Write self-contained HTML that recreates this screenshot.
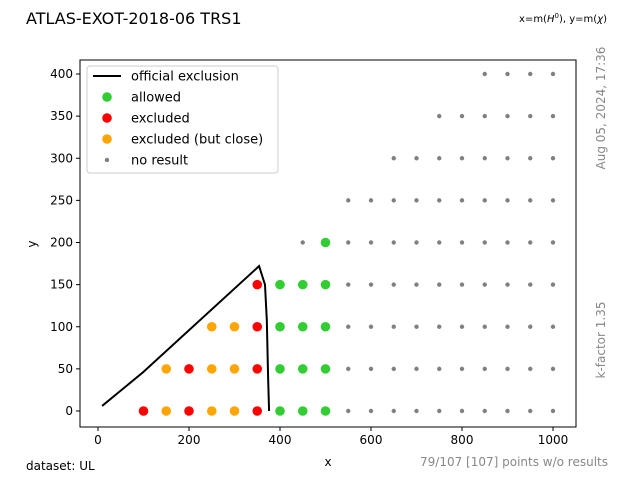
<!DOCTYPE html>
<html><head><meta charset="utf-8"><style>
body{margin:0;background:#fff;font-family:"Liberation Sans","DejaVu Sans",sans-serif}
svg text{font-family:"DejaVu Sans","Liberation Sans",sans-serif}
</style></head><body>
<svg id="c" width="640" height="480" xmlns="http://www.w3.org/2000/svg">
<rect width="640" height="480" fill="#fff"/>
<text x="26" y="24" font-size="16">ATLAS-EXOT-2018-06 TRS1</text>
<text x="607" y="22" font-size="10" text-anchor="end">x=m(<tspan font-style="italic">H</tspan><tspan font-size="7" dy="-4">0</tspan><tspan dy="4">), y=m(</tspan><tspan font-style="italic">χ</tspan>)</text>
<text transform="translate(605,108) rotate(-90)" font-size="12" fill="#888" text-anchor="middle">Aug 05, 2024, 17:36</text>
<text transform="translate(605,340) rotate(-90)" font-size="12" fill="#888" text-anchor="middle">k-factor 1.35</text>
<text x="26" y="470" font-size="12">dataset: UL</text>
<text x="608" y="466" font-size="12" fill="#888" text-anchor="end">79/107 [107] points w/o results</text>
<g id="plot"></g>
</svg>
<script>
const xTicks=[0,200,400,600,800,1000];
const yTicks=[0,50,100,150,200,250,300,350,400];
const exclX=[9,99,354,367,371,374,376];
const exclY=[6,46,172,150,108,37,0];
const allowedX=[400,450,500,400,450,500,400,450,500,400,450,500,500];
const allowedY=[0,0,0,50,50,50,100,100,100,150,150,150,200];
const excludedX=[100,200,350,200,350,350,350];
const excludedY=[0,0,0,50,50,100,150];
const closeX=[150,250,300,150,250,300,250,300];
const closeY=[0,0,0,50,50,50,100,100];
const noResRows=[0,50,100,150,200,250,300,350,400];
const noResStart=[550,550,550,550,550,550,650,750,850];
const NS="http://www.w3.org/2000/svg";
const L=80,R=576,T=60,B=427;
const sx=v=>98+v*0.455, sy=v=>411-v*0.8425;
const g=document.getElementById('plot');
function mk(t,a){const e=document.createElementNS(NS,t);for(const k in a)e.setAttribute(k,a[k]);g.appendChild(e);return e;}
// axes frame
let fr=mk('rect',{x:L,y:T,width:R-L,height:B-T,fill:'none',stroke:'#000','stroke-width':1});


xTicks.forEach(v=>{
 let t=mk('line',{x1:sx(v),x2:sx(v),y1:B,y2:B+4,stroke:'#000'});
 
 
 let s=mk('text',{x:sx(v),y:B+17,'font-size':12,'text-anchor':'middle'});s.textContent=v;
 
 
});
yTicks.forEach(v=>{
 let t=mk('line',{x1:L-4,x2:L,y1:sy(v),y2:sy(v),stroke:'#000'});
 
 
 let s=mk('text',{x:L-7,y:sy(v)+4,'font-size':12,'text-anchor':'end'});s.textContent=v;
 
 
});
let xl=mk('text',{x:328,y:466,'font-size':12,'text-anchor':'middle'});xl.textContent='x';


let yl=mk('text',{x:36,y:244,'font-size':12,'text-anchor':'middle',transform:'rotate(-90 36 244)'});yl.textContent='y';


// no result
noResRows.forEach((y,i)=>{
 const xs=[];for(let x=noResStart[i];x<=1000;x+=50)xs.push(x);
 if(y===200)xs.unshift(450);
 xs.forEach(x=>{let c=mk('circle',{cx:sx(x),cy:sy(y),r:2.2,fill:'#808080'});
 
 });
});
function pts(X,Y,col,name){X.forEach((x,i)=>{let c=mk('circle',{cx:sx(x),cy:sy(Y[i]),r:4.8,fill:col});
 
 });}
pts(allowedX,allowedY,'#32cd32','allowed-point');
pts(excludedX,excludedY,'#ff0000','excluded-point');
pts(closeX,closeY,'#ffa500','excluded-close-point');
let p=mk('polyline',{points:exclX.map((x,i)=>sx(x)+','+sy(exclY[i])).join(' '),fill:'none',stroke:'#000','stroke-width':2});


// legend
let lg=mk('rect',{x:87,y:66,width:191,height:107,rx:3,fill:'#fff',stroke:'#ccc'});


const items=[['line','#000','official exclusion'],['big','#32cd32','allowed'],['big','#ff0000','excluded'],['big','#ffa500','excluded (but close)'],['small','#808080','no result']];
items.forEach((it,i)=>{
 const y=76+i*21;
 let m;
 if(it[0]==='line')m=mk('line',{x1:93,x2:121,y1:y,y2:y,stroke:'#000','stroke-width':2});
 else m=mk('circle',{cx:107,cy:y,r:it[0]==='big'?4.8:2.2,fill:it[1]});
 
 
 let t=mk('text',{x:131,y:y+4.5,'font-size':13});t.textContent=it[2];
 
 
});
</script>
</body></html>
